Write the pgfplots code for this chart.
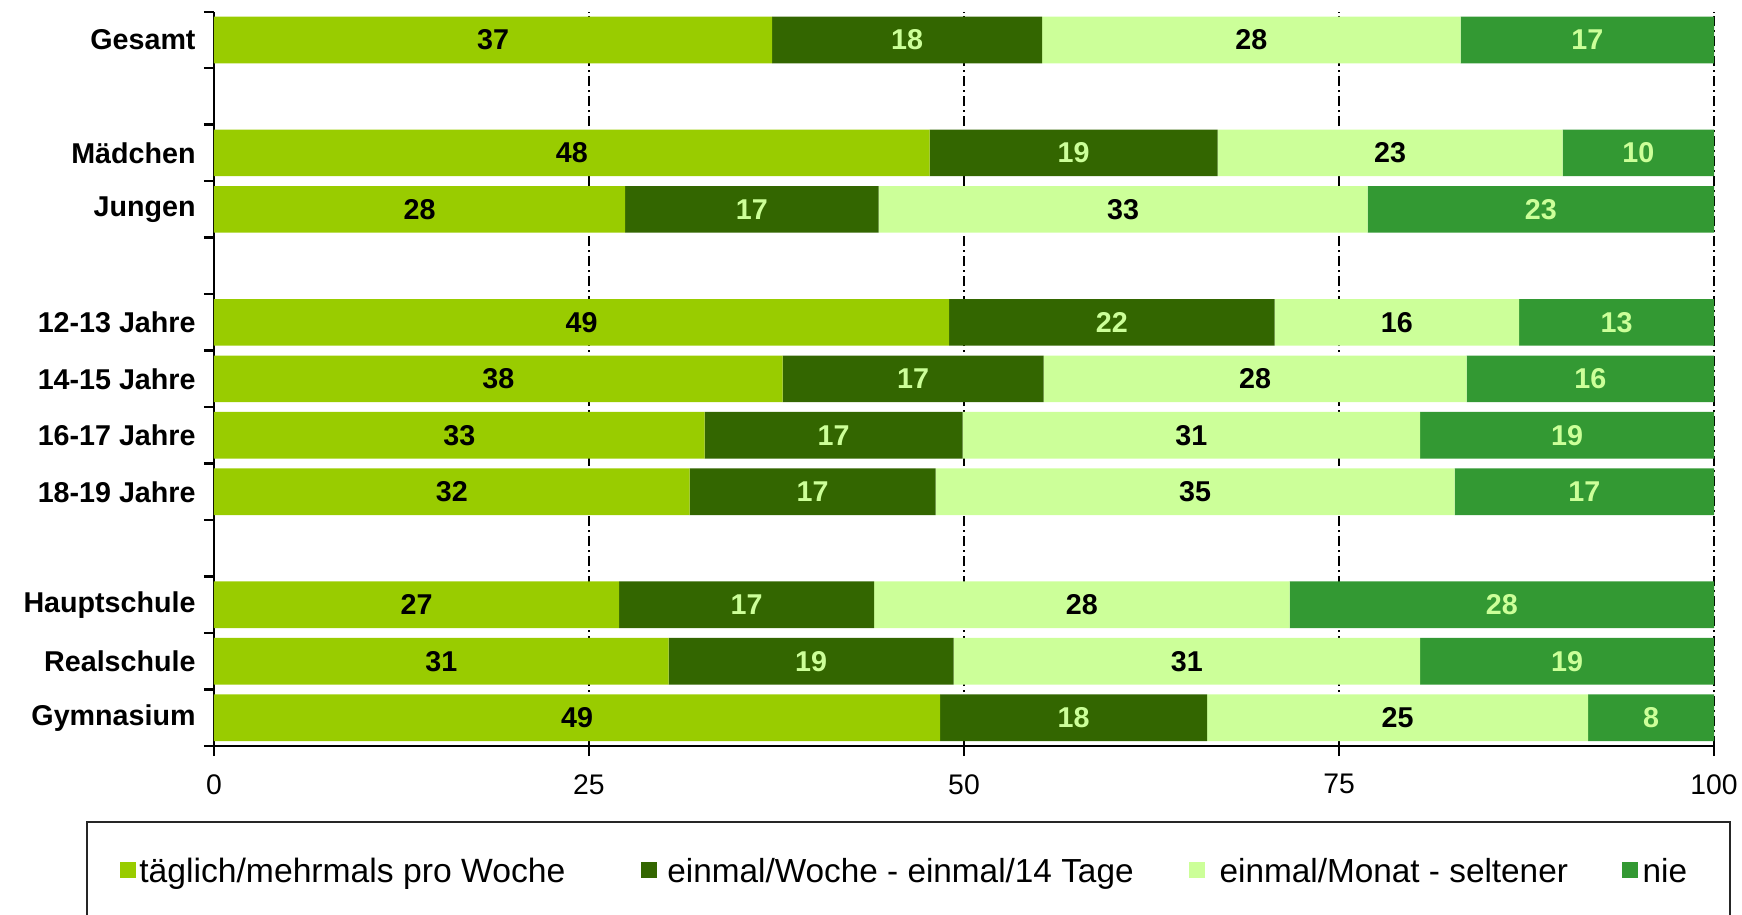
\documentclass[border=0pt]{standalone}
\usepackage{fontspec}
\setmainfont{Liberation Sans}
\usepackage{pgfplots}
\usepackage{pgfplotstable}
\pgfplotsset{compat=1.18}
\definecolor{cA}{HTML}{99CC00}
\definecolor{cB}{HTML}{336600}
\definecolor{cC}{HTML}{CCFF99}
\definecolor{cD}{HTML}{339933}
\definecolor{cLab}{HTML}{CCFF99}

% segment widths (percent), rows placed top (13) to bottom (1)
\pgfplotstableread{
y a b c d
13 37.2 18.0 27.9 16.9
11 47.7 19.2 23.0 10.1
10 27.4 16.9 32.6 23.1
8 49.0 21.7 16.3 13.0
7 37.9 17.4 28.2 16.5
6 32.7 17.2 30.5 19.6
5 31.7 16.4 34.6 17.3
3 27.0 17.0 27.7 28.3
2 30.3 19.0 31.1 19.6
1 48.4 17.8 25.4 8.4
}\datatable

% label positions (segment centres) and printed values
\pgfplotstableread{
y ca la cb lb cc lc cd ld
13 18.6 37 46.2 18 69.15 28 91.55 17
11 23.85 48 57.3 19 78.4 23 94.95 10
10 13.7 28 35.85 17 60.6 33 88.45 23
8 24.5 49 59.85 22 78.85 16 93.5 13
7 18.95 38 46.6 17 69.4 28 91.75 16
6 16.35 33 41.3 17 65.15 31 90.2 19
5 15.85 32 39.9 17 65.4 35 91.35 17
3 13.5 27 35.5 17 57.85 28 85.85 28
2 15.15 31 39.8 19 64.85 31 90.2 19
1 24.2 49 57.3 18 78.9 25 95.8 8
}\labeltable

\pgfplotsset{myaxis/.style={at={(64.2pt,50.4pt)}, anchor=south west, scale only axis,
  width=450pt, height=220.3pt, xmin=0, xmax=100, ymin=0.5, ymax=13.5}}

\begin{document}
\begin{tikzpicture}
\path[use as bounding box] (0,0) rectangle (522.6pt,274.2pt);
\clip (0,0) rectangle (522.6pt,274.2pt);

\begin{axis}[myaxis,
  xbar stacked, bar width=14pt,
  axis lines*=left,
  axis line style={black, line width=0.7pt, -},
  xtick={0,25,50,75,100},
  xmajorgrids,
  grid style={black, line width=0.6pt, dash pattern=on 3pt off 1.2pt on 0.6pt off 1.2pt},
  ytick={0.5,1.5,...,13.5},
  yticklabels={},
  major tick length=3pt,
  tick align=outside,
  tick style={black, line width=0.7pt},
  extra y ticks={13,11,10,8,7,6,5,3,2,1},
  extra y tick labels={Gesamt,Mädchen,Jungen,12-13 Jahre,14-15 Jahre,16-17 Jahre,18-19 Jahre,Hauptschule,Realschule,Gymnasium},
  extra y tick style={major tick length=0pt, yticklabel style={font=\bfseries\fontsize{8.6}{10}\selectfont, xshift=-2pt}},
  xticklabel style={font=\fontsize{8.5}{10}\selectfont, yshift=-2pt},
  /pgf/number format/assume math mode=true,
]
\addplot[fill=cA, draw=none] table[x=a, y=y] {\datatable};
\addplot[fill=cB, draw=none] table[x=b, y=y] {\datatable};
\addplot[fill=cC, draw=none] table[x=c, y=y] {\datatable};
\addplot[fill=cD, draw=none] table[x=d, y=y] {\datatable};
\end{axis}

\begin{axis}[myaxis, hide axis,
  nodes near coords, point meta=explicit symbolic,
  nodes near coords align=center,
  every node near coord/.append style={anchor=center, inner sep=0pt, font=\bfseries\fontsize{8.6}{10}\selectfont},
]
\addplot[draw=none, nodes near coords style={text=black}] table[x=ca, y=y, meta=la] {\labeltable};
\addplot[draw=none, nodes near coords style={text=cLab}] table[x=cb, y=y, meta=lb] {\labeltable};
\addplot[draw=none, nodes near coords style={text=black}] table[x=cc, y=y, meta=lc] {\labeltable};
\addplot[draw=none, nodes near coords style={text=cLab}] table[x=cd, y=y, meta=ld] {\labeltable};
\end{axis}

% legend
\draw[line width=0.7pt, black!85] (26.1pt,-10pt) rectangle (519pt,27.6pt);
\fill[cA] (36pt,10.8pt) rectangle ++(4.8pt,4.8pt);
\node[anchor=base west, inner sep=0pt, font=\fontsize{10.1}{12}\selectfont] at (41.6pt,9.6pt) {täglich/mehrmals pro Woche};
\fill[cB] (192.3pt,10.8pt) rectangle ++(4.8pt,4.8pt);
\node[anchor=base west, inner sep=0pt, font=\fontsize{10}{12}\selectfont] at (200pt,9.6pt) {einmal/Woche - einmal/14 Tage};
\fill[cC] (356.7pt,10.8pt) rectangle ++(4.8pt,4.8pt);
\node[anchor=base west, inner sep=0pt, font=\fontsize{10}{12}\selectfont] at (365.7pt,9.6pt) {einmal/Monat - seltener};
\fill[cD] (486.6pt,10.8pt) rectangle ++(4.8pt,4.8pt);
\node[anchor=base west, inner sep=0pt, font=\fontsize{10}{12}\selectfont] at (492.6pt,9.6pt) {nie};
\end{tikzpicture}
\end{document}
